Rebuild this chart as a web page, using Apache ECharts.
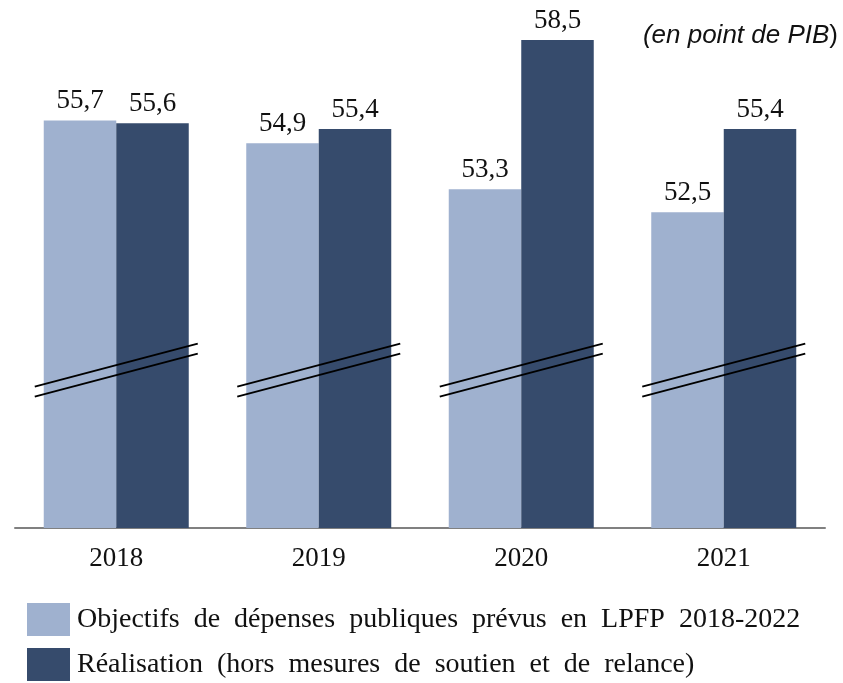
<!DOCTYPE html>
<html>
<head>
<meta charset="utf-8">
<script src="https://cdn.jsdelivr.net/npm/echarts@6/dist/echarts.min.js"></script>
<style>html,body{margin:0;padding:0;background:#fff;}#c{width:843px;height:683px;}</style>
</head>
<body>
<div id="c"></div>
<script>
var categories = ['2018', '2019', '2020', '2021'];
var objectifs = [55.7, 54.9, 53.3, 52.5];
var realisation = [55.6, 55.4, 58.5, 55.4];
var seriesNames = ['Objectifs de dépenses publiques prévus en LPFP 2018-2022', 'Réalisation (hors mesures de soutien et de relance)'];
var breakValue = 47.0;

var chart = echarts.init(document.getElementById('c'));
var serif = '"Liberation Serif", "Times New Roman", serif';
function fmt(p) { return String(p.value).replace('.', ','); }
function legendFor(name, top) {
  return {
    orient: 'vertical', left: 27, top: top, itemWidth: 43, itemHeight: 33, itemGap: 0,
    icon: 'rect', selectedMode: false, padding: 0,
    formatter: function (n) { return n.split(' ').join('{sp| }'); },
    textStyle: {
      fontFamily: serif, fontSize: 28, color: '#111', padding: [0, 0, 0, 2],
      rich: { sp: { fontFamily: serif, fontSize: 28, width: 14 } }
    },
    data: [name]
  };
}

chart.setOption({
  animation: false,
  grid: { left: 15, right: 18, top: 11.3, bottom: 155, containLabel: false },
  legend: [legendFor(seriesNames[0], 603), legendFor(seriesNames[1], 648)],
  xAxis: {
    type: 'category', data: categories,
    axisLine: { lineStyle: { color: '#808080', width: 2 } },
    axisTick: { show: false },
    axisLabel: { fontFamily: serif, fontSize: 27, color: '#111', margin: 17 }
  },
  yAxis: { type: 'value', min: 41.5, max: 59.5, show: false, splitLine: { show: false } },
  graphic: [{
    type: 'text', right: 5, top: 23,
    style: {
      text: '{i|(en point de PIB}{n|)}',
      rich: {
        i: { fontFamily: '"Liberation Sans", Arial, sans-serif', fontStyle: 'italic', fontSize: 26, fill: '#111' },
        n: { fontFamily: '"Liberation Sans", Arial, sans-serif', fontSize: 26, fill: '#111' }
      }
    }
  }],
  series: [
    {
      name: seriesNames[0], type: 'bar', data: objectifs, barWidth: 72.5, barGap: '0%',
      itemStyle: { color: '#9fb1cf' },
      label: { show: true, position: 'top', distance: 6, formatter: fmt, fontFamily: serif, fontSize: 27, color: '#111' }
    },
    {
      name: seriesNames[1], type: 'bar', data: realisation, barWidth: 72.5,
      itemStyle: { color: '#364b6c' },
      label: { show: true, position: 'top', distance: 6, formatter: fmt, fontFamily: serif, fontSize: 27, color: '#111' }
    },
    {
      type: 'custom', silent: true, z: 10,
      data: categories.map(function (c, i) { return [i, breakValue]; }),
      renderItem: function (params, api) {
        var p = api.coord([api.value(0), api.value(1)]);
        var half = 81.5, rise = 21.5, gap = 5;
        return {
          type: 'group',
          children: [-gap, gap].map(function (d) {
            return {
              type: 'line',
              shape: { x1: p[0] - half, y1: p[1] + d + rise, x2: p[0] + half, y2: p[1] + d - rise },
              style: { stroke: '#000', lineWidth: 2 }
            };
          })
        };
      }
    }
  ]
});
</script>
</body>
</html>
